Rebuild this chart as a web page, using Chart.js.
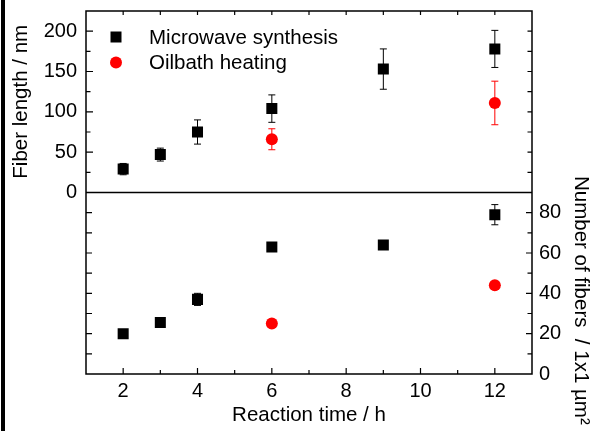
<!DOCTYPE html>
<html>
<head>
<meta charset="utf-8">
<script src="https://cdn.jsdelivr.net/npm/chart.js@4.4.0/dist/chart.umd.min.js"></script>
<style>
  html, body { margin: 0; padding: 0; background: #fff; }
  #wrap { position: relative; width: 599px; height: 431px; }
  #edge { position: absolute; left: 1px; top: 0; width: 4px; height: 431px; background: #000; }
</style>
</head>
<body>
<div id="wrap">
  <canvas id="fibers" width="599" height="431"></canvas>
  <div id="edge"></div>
</div>
<script>
'use strict';

// reaction times (h)
var mwHours = [2, 3, 4, 6, 9, 12];
var oilHours = [6, 12];

// fiber length / nm (top panel)
var mwLength = [29, 47, 75, 104, 153, 178];
var mwLengthErr = [7, 8, 15, 17, 25, 23];
var oilLength = [66, 111];
var oilLengthErr = [13, 27];

// number of fibers per 1x1 um2 (bottom panel)
var mwCount = [20, 25.5, 37, 63, 64, 79];
var mwCountErr = [0, 0, 3, 0, 0, 5];
var oilCount = [25, 44];
var oilCountErr = [0, 0];

var seriesNames = ['Microwave synthesis', 'Oilbath heating'];

Chart.defaults.font.family = '"Liberation Sans", Arial, sans-serif';
Chart.defaults.color = '#000';

function toPoints(xs, ys) {
  return xs.map(function(x, i) {
    return { x: x, y: ys[i] };
  });
}

var black = '#000000';
var red = '#ff0000';

// error bars, drawn from each dataset's errors array
var errorBars = {
  id: 'errorBars',
  beforeDatasetsDraw: function(chart) {
    var ctx = chart.ctx;
    ctx.save();
    ctx.lineWidth = 1;
    chart.data.datasets.forEach(function(ds, i) {
      if (!ds.errors) return;
      var meta = chart.getDatasetMeta(i);
      var yScale = chart.scales[ds.yAxisID];
      ctx.strokeStyle = ds.backgroundColor;
      meta.data.forEach(function(pt, j) {
        var e = ds.errors[j];
        if (!e) return;
        var v = ds.data[j].y;
        var top = yScale.getPixelForValue(v + e);
        var bot = yScale.getPixelForValue(v - e);
        ctx.beginPath();
        ctx.moveTo(pt.x, top); ctx.lineTo(pt.x, bot);
        ctx.moveTo(pt.x - 3.5, top); ctx.lineTo(pt.x + 3.5, top);
        ctx.moveTo(pt.x - 3.5, bot); ctx.lineTo(pt.x + 3.5, bot);
        ctx.stroke();
      });
    });
    ctx.restore();
  }
};

// box frame, panel divider and inward tick marks
var frameTicks = {
  id: 'frameTicks',
  beforeDatasetsDraw: function(chart) {
    var ctx = chart.ctx;
    var area = chart.chartArea;
    var x = chart.scales.x;
    var yLen = chart.scales.yLen;
    var yNum = chart.scales.yNum;
    var mid = yLen.getPixelForValue(0);
    ctx.save();
    ctx.strokeStyle = '#000';
    ctx.lineWidth = 1.5;
    ctx.beginPath();
    ctx.rect(area.left, area.top, area.right - area.left, area.bottom - area.top);
    ctx.moveTo(area.left, mid);
    ctx.lineTo(area.right, mid);
    ctx.stroke();

    ctx.lineWidth = 1.2;
    ctx.beginPath();
    x.ticks.forEach(function(t) {
      if (t.value <= x.min || t.value >= x.max) return;
      var px = x.getPixelForValue(t.value);
      var len = t.value % 2 === 0 ? 6 : 4;
      ctx.moveTo(px, area.bottom); ctx.lineTo(px, area.bottom - len);
      ctx.moveTo(px, area.top); ctx.lineTo(px, area.top + 4);
    });
    yLen.ticks.forEach(function(t) {
      if (t.value <= yLen.min || t.value >= yLen.max) return;
      var py = yLen.getPixelForValue(t.value);
      var len = t.value % 50 === 0 ? 7 : 4.5;
      ctx.moveTo(area.left, py); ctx.lineTo(area.left + len, py);
      ctx.moveTo(area.right, py); ctx.lineTo(area.right - 4.5, py);
    });
    yNum.ticks.forEach(function(t) {
      if (t.value <= yNum.min || t.value >= yNum.max) return;
      var py = yNum.getPixelForValue(t.value);
      var len = t.value % 20 === 0 ? 6 : 4.5;
      ctx.moveTo(area.left, py); ctx.lineTo(area.left + 6, py);
      ctx.moveTo(area.right, py); ctx.lineTo(area.right - len, py);
    });
    ctx.stroke();
    ctx.restore();
  }
};

// legend in the upper left corner of the top panel
var cornerLegend = {
  id: 'cornerLegend',
  afterDraw: function(chart) {
    var ctx = chart.ctx;
    var area = chart.chartArea;
    var styles = [chart.data.datasets[0], chart.data.datasets[1]];
    ctx.save();
    ctx.font = '20.5px "Liberation Sans", Arial, sans-serif';
    ctx.textBaseline = 'middle';
    ctx.textAlign = 'left';
    seriesNames.forEach(function(name, i) {
      var ds = styles[i];
      var cx = area.left + 30;
      var cy = area.top + 26 + i * 25.6;
      ctx.fillStyle = ds.backgroundColor;
      ctx.beginPath();
      if (ds.pointStyle === 'rect') {
        ctx.rect(cx - 5.5, cy - 5.5, 11, 11);
      } else {
        ctx.arc(cx, cy, 6, 0, Math.PI * 2);
      }
      ctx.fill();
      ctx.fillStyle = '#000';
      ctx.fillText(name, area.left + 63, cy + 1);
    });
    ctx.restore();
  }
};

var noGrid = { display: false, drawTicks: false };
var noBorder = { display: false };

// fixed axis sizes so the plot box sits where the original one does
function fixSize(w, h) {
  return function(s) {
    if (w !== null) s.width = w;
    if (h !== null) s.height = h;
    s.paddingTop = 0;
    s.paddingBottom = 0;
    s.paddingLeft = 0;
    s.paddingRight = 0;
  };
}

var chart = new Chart(document.getElementById('fibers'), {
  type: 'scatter',
  data: {
    datasets: [
      {
        label: seriesNames[0],
        data: toPoints(mwHours, mwLength),
        errors: mwLengthErr,
        yAxisID: 'yLen',
        pointStyle: 'rect',
        pointRadius: 7.8,
        backgroundColor: black,
        borderColor: black,
        borderWidth: 0
      },
      {
        label: seriesNames[1],
        data: toPoints(oilHours, oilLength),
        errors: oilLengthErr,
        yAxisID: 'yLen',
        pointStyle: 'circle',
        pointRadius: 6,
        backgroundColor: red,
        borderColor: red,
        borderWidth: 0
      },
      {
        label: seriesNames[0],
        data: toPoints(mwHours, mwCount),
        errors: mwCountErr,
        yAxisID: 'yNum',
        pointStyle: 'rect',
        pointRadius: 7.8,
        backgroundColor: black,
        borderColor: black,
        borderWidth: 0
      },
      {
        label: seriesNames[1],
        data: toPoints(oilHours, oilCount),
        errors: oilCountErr,
        yAxisID: 'yNum',
        pointStyle: 'circle',
        pointRadius: 6,
        backgroundColor: red,
        borderColor: red,
        borderWidth: 0
      }
    ]
  },
  options: {
    responsive: false,
    devicePixelRatio: 1,
    animation: false,
    events: [],
    layout: { padding: { top: 11, left: 0, right: 0, bottom: 0 } },
    plugins: {
      legend: { display: false },
      tooltip: { enabled: false }
    },
    scales: {
      x: {
        type: 'linear',
        position: 'bottom',
        min: 1,
        max: 13,
        grid: noGrid,
        border: noBorder,
        ticks: {
          stepSize: 1,
          autoSkip: false,
          maxRotation: 0,
          padding: 5,
          font: { size: 20 },
          callback: function(v) { return v % 2 === 0 ? v : ''; }
        },
        title: {
          display: true,
          text: 'Reaction time / h',
          font: { size: 20.5 },
          padding: { top: 0, bottom: 3 }
        },
        afterFit: fixSize(null, 57)
      },
      yLen: {
        type: 'linear',
        position: 'left',
        stack: 'left',
        stackWeight: 1,
        weight: 2,
        min: 0,
        max: 225,
        grid: noGrid,
        border: noBorder,
        ticks: {
          stepSize: 25,
          autoSkip: false,
          padding: 9,
          font: { size: 20 },
          callback: function(v) { return v % 50 === 0 ? v : ''; }
        },
        title: {
          display: true,
          text: 'Fiber length / nm',
          font: { size: 20.5 },
          padding: { top: 9, bottom: 0 }
        },
        afterFit: fixSize(86, null)
      },
      yNumL: {
        type: 'linear',
        position: 'left',
        stack: 'left',
        stackWeight: 1,
        weight: 1,
        min: 0,
        max: 90,
        grid: noGrid,
        border: noBorder,
        ticks: { display: false, stepSize: 10 },
        afterFit: fixSize(86, null)
      },
      yLenR: {
        type: 'linear',
        position: 'right',
        stack: 'right',
        stackWeight: 1,
        weight: 1,
        min: 0,
        max: 225,
        grid: noGrid,
        border: noBorder,
        ticks: { display: false, stepSize: 25 },
        afterFit: fixSize(67, null)
      },
      yNum: {
        type: 'linear',
        position: 'right',
        stack: 'right',
        stackWeight: 1,
        weight: 2,
        min: 0,
        max: 90,
        grid: noGrid,
        border: noBorder,
        ticks: {
          stepSize: 10,
          autoSkip: false,
          padding: 7,
          font: { size: 20 },
          callback: function(v) { return v % 20 === 0 ? v : ''; }
        },
        title: {
          display: true,
          text: '      Number of fibers  / 1x1 µm²',
          font: { size: 20.5 },
          padding: { top: 6, bottom: 0 }
        },
        afterFit: fixSize(67, null)
      }
    }
  },
  plugins: [frameTicks, errorBars, cornerLegend]
});
</script>
</body>
</html>
